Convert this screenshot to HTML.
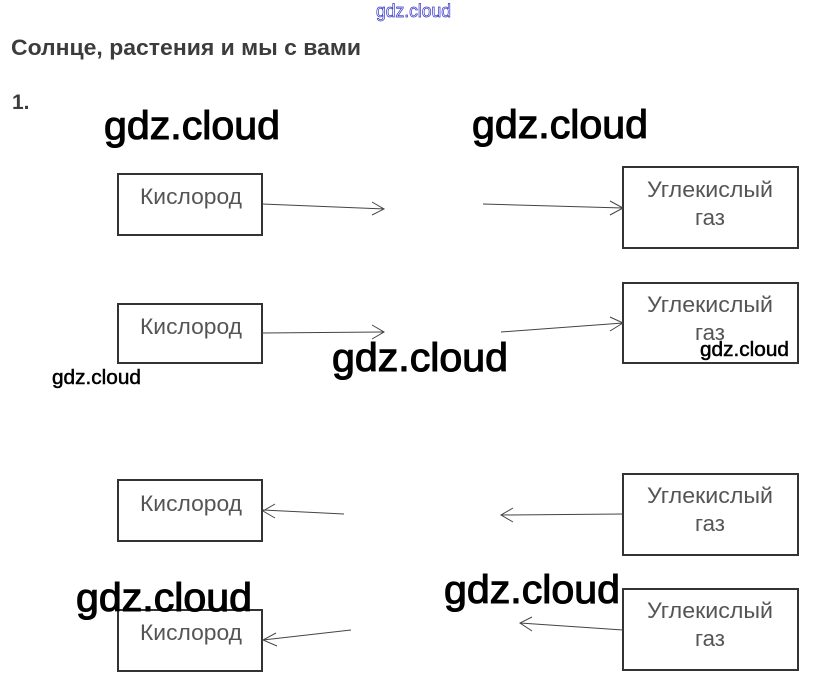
<!DOCTYPE html>
<html>
<head>
<meta charset="utf-8">
<style>
html,body{margin:0;padding:0;background:#fff;width:827px;height:686px;overflow:hidden}
svg{display:block}
text{font-family:"Liberation Sans","DejaVu Sans",sans-serif}
.b{fill:none;stroke:#333;stroke-width:2}
.l{fill:none;stroke:#444;stroke-width:1}
.t{font-size:22px;fill:#555}
.w{font-size:40px;fill:#000;stroke:#000;stroke-width:1.1}
.s{font-size:20px;fill:#000;stroke:#000;stroke-width:.5}
</style>
</head>
<body>
<svg width="827" height="686" viewBox="0 0 827 686" xmlns="http://www.w3.org/2000/svg">
<text x="376" y="17" font-size="18" textLength="75" lengthAdjust="spacingAndGlyphs" fill="#fff" stroke="#2f2fc4" stroke-width=".7">gdz.cloud</text>
<text x="11" y="55" font-size="22" font-weight="bold" fill="#3c3c3c" textLength="350" lengthAdjust="spacingAndGlyphs">Солнце, растения и мы с вами</text>
<text x="12" y="109" font-size="21" font-weight="bold" fill="#3c3c3c">1.</text>

<rect class="b" x="118" y="174" width="144" height="61"/>
<rect class="b" x="118" y="304" width="144" height="59"/>
<rect class="b" x="118" y="480" width="144" height="61"/>
<rect class="b" x="118" y="610" width="144" height="61"/>
<rect class="b" x="623" y="167" width="175" height="81"/>
<rect class="b" x="623" y="283" width="175" height="80"/>
<rect class="b" x="623" y="474" width="175" height="81"/>
<rect class="b" x="623" y="589" width="175" height="81"/>

<text class="t" x="140" y="204" textLength="102" lengthAdjust="spacingAndGlyphs">Кислород</text>
<text class="t" x="140" y="334" textLength="102" lengthAdjust="spacingAndGlyphs">Кислород</text>
<text class="t" x="140" y="511" textLength="102" lengthAdjust="spacingAndGlyphs">Кислород</text>
<text class="t" x="140" y="640" textLength="102" lengthAdjust="spacingAndGlyphs">Кислород</text>

<text class="t" x="647" y="197" textLength="126" lengthAdjust="spacingAndGlyphs">Углекислый</text>
<text class="t" x="695" y="225" textLength="30" lengthAdjust="spacingAndGlyphs">газ</text>
<text class="t" x="647" y="312" textLength="126" lengthAdjust="spacingAndGlyphs">Углекислый</text>
<text class="t" x="695" y="340" textLength="30" lengthAdjust="spacingAndGlyphs">газ</text>
<text class="t" x="647" y="503" textLength="126" lengthAdjust="spacingAndGlyphs">Углекислый</text>
<text class="t" x="695" y="531" textLength="30" lengthAdjust="spacingAndGlyphs">газ</text>
<text class="t" x="647" y="618" textLength="126" lengthAdjust="spacingAndGlyphs">Углекислый</text>
<text class="t" x="695" y="646" textLength="30" lengthAdjust="spacingAndGlyphs">газ</text>

<path class="l" d="M262 204L384 209M372 202L384 209L372 215"/>
<path class="l" d="M483 204L623 208M610 201L623 208L610 215"/>
<path class="l" d="M262 333L384 332M372 325L384 332L372 339"/>
<path class="l" d="M501 332L623 323M610 317L623 323L610 331"/>
<path class="l" d="M344 514L263 510M275 504L263 511L275 518"/>
<path class="l" d="M623 514L501 515M513 508L501 515L513 522"/>
<path class="l" d="M351 630L263 640M276 633L263 640L277 646"/>
<path class="l" d="M623 630L520 623M532 617L520 623L532 631"/>

<text class="w" x="104" y="139" textLength="176" lengthAdjust="spacingAndGlyphs">gdz.cloud</text>
<text class="w" x="472" y="138" textLength="176" lengthAdjust="spacingAndGlyphs">gdz.cloud</text>
<text class="w" x="332" y="371" textLength="176" lengthAdjust="spacingAndGlyphs">gdz.cloud</text>
<text class="w" x="76" y="611" textLength="176" lengthAdjust="spacingAndGlyphs">gdz.cloud</text>
<text class="w" x="444" y="603" textLength="176" lengthAdjust="spacingAndGlyphs">gdz.cloud</text>
<text class="s" x="52" y="384" textLength="89" lengthAdjust="spacingAndGlyphs">gdz.cloud</text>
<text class="s" x="700" y="356" textLength="89" lengthAdjust="spacingAndGlyphs">gdz.cloud</text>
</svg>
</body>
</html>
